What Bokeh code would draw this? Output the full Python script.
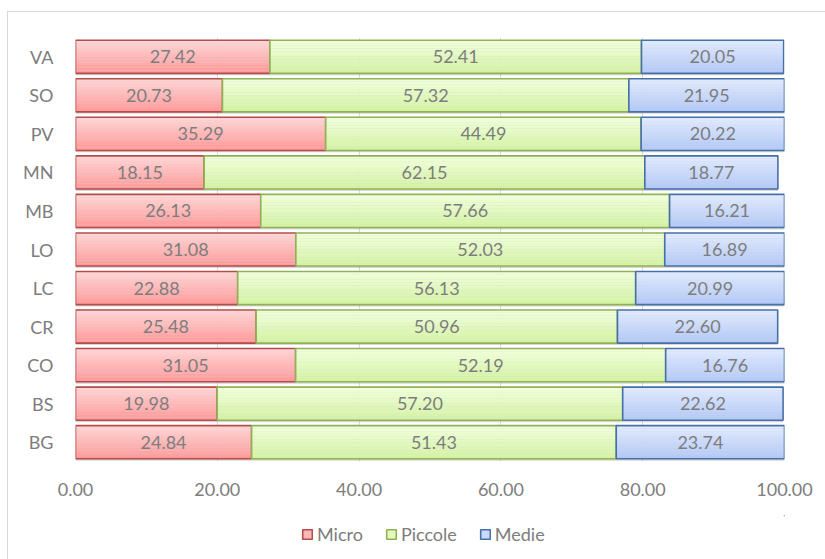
import numpy as np
from bokeh.plotting import figure
from bokeh.layouts import column
from bokeh.models import (ColumnDataSource, FixedTicker, NumeralTickFormatter,
                          Legend, LegendItem, Range1d)
from bokeh.core.properties import value
from bokeh.embed import file_html
from bokeh.resources import INLINE

# Province codes, bottom to top
categories = ["BG", "BS", "CO", "CR", "LC", "LO", "MB", "MN", "PV", "SO", "VA"]

# Share of firms by size class (%)
micro = [24.84, 19.98, 31.05, 25.48, 22.88, 31.08, 26.13, 18.15, 35.29, 20.73, 27.42]
piccole = [51.43, 57.20, 52.19, 50.96, 56.13, 52.03, 57.66, 62.15, 44.49, 57.32, 52.41]
medie = [23.74, 22.62, 16.76, 22.60, 20.99, 16.89, 16.21, 18.77, 20.22, 21.95, 20.05]

series_names = ["Micro", "Piccole", "Medie"]
x_ticks = [0, 20, 40, 60, 80, 100]

FONT = "Lato"
TEXT_COLOR = "#7d7d7d"
FONT_SIZE = "18px"
BAR_H = 0.86
STRIPS = 12

# top colour, bottom colour, border colour for each series
palette = {
    "Micro": ((255, 212, 212), (255, 155, 155), "#b44c4a"),
    "Piccole": ((240, 255, 218), (212, 243, 165), "#90b254"),
    "Medie": ((224, 234, 255), (180, 201, 246), "#4670a8"),
}

W = 817
H_MAIN = 503
H_LEG = 44

p = figure(width=W, height=H_MAIN, output_backend="svg", toolbar_location=None,
           x_range=Range1d(0, 100), y_range=Range1d(-0.5, len(categories) - 0.5),
           min_border_left=67, min_border_right=41, min_border_top=25,
           min_border_bottom=H_MAIN - 25 - 424)
p.outline_line_color = None
p.background_fill_color = "white"

idx = np.arange(len(categories))
series = [micro, piccole, medie]
lefts = [np.zeros(len(categories)), np.array(micro), np.array(micro) + np.array(piccole)]

# separate strip underneath that carries the legend
lf = figure(width=W, height=H_LEG, output_backend="svg", toolbar_location=None,
            x_range=Range1d(0, 1), y_range=Range1d(0, 1),
            min_border=0, x_axis_location=None, y_axis_location=None)
lf.outline_line_color = None
lf.grid.visible = False

legend_items = []
for name, vals, left in zip(series_names, series, lefts):
    vals = np.array(vals)
    right = left + vals
    top_c, bot_c, border = palette[name]

    # soft drop shadow under each segment
    p.hbar(y=idx - 0.05, left=left, right=right, height=BAR_H,
           fill_color="#8c8c8c", fill_alpha=0.35, line_color=None)

    # vertical gradient built from thin strips
    sh = BAR_H / STRIPS
    for k in range(STRIPS):
        t = k / (STRIPS - 1)
        c = tuple(int(round(a + (b - a) * t)) for a, b in zip(top_c, bot_c))
        yk = idx + BAR_H / 2 - sh * (k + 0.5)
        p.hbar(y=yk, left=left, right=right, height=sh * 1.02,
               fill_color="#%02x%02x%02x" % c, line_color=None)

    # segment outline
    p.hbar(y=idx, left=left, right=right, height=BAR_H,
           fill_color=None, line_color=border, line_width=1.6)

    # value labels
    src = ColumnDataSource(dict(x=left + vals / 2, y=idx,
                                t=["%.2f" % v for v in vals]))
    p.text(x="x", y="y", text="t", source=src, text_align="center",
           text_baseline="middle", text_font=value(FONT),
           text_font_size=FONT_SIZE, text_color=TEXT_COLOR)

    # legend swatch (kept off-canvas; only its style is shown in the legend)
    mid = tuple((a + b) // 2 for a, b in zip(top_c, bot_c))
    swatch = lf.hbar(y=[50], left=[50], right=[51], height=0.5,
                     fill_color="#%02x%02x%02x" % mid, line_color=border,
                     line_width=1.6)
    legend_items.append(LegendItem(label=name, renderers=[swatch]))

# axes
p.xaxis.ticker = FixedTicker(ticks=x_ticks)
p.xaxis.formatter = NumeralTickFormatter(format="0.00")
p.yaxis.ticker = FixedTicker(ticks=list(idx))
p.yaxis.major_label_overrides = {int(i): c for i, c in zip(idx, categories)}
for ax in (p.xaxis, p.yaxis):
    ax.axis_line_color = None
    ax.major_tick_line_color = None
    ax.minor_tick_line_color = None
    ax.major_label_text_font = FONT
    ax.major_label_text_font_size = FONT_SIZE
    ax.major_label_text_color = TEXT_COLOR
p.xaxis.major_label_standoff = 15
p.yaxis.major_label_standoff = 16

p.xgrid.ticker = FixedTicker(ticks=x_ticks)
p.xgrid.grid_line_color = "#d9d9d9"
p.ygrid.grid_line_color = None

legend = Legend(items=legend_items, orientation="horizontal", location=(226, 14),
                border_line_color=None, background_fill_alpha=0,
                glyph_width=12, glyph_height=12, spacing=22, padding=4, margin=0,
                label_text_font=FONT, label_text_font_size=FONT_SIZE,
                label_text_color=TEXT_COLOR, label_standoff=4)
lf.add_layout(legend, "center")

layout = column(p, lf, spacing=0)
layout.margin = (11, 0, 0, 7)
layout.styles = {"border-top": "1px solid #d9d9d9", "border-left": "1px solid #d9d9d9"}

open("out.html", "w").write(file_html(layout, INLINE))
